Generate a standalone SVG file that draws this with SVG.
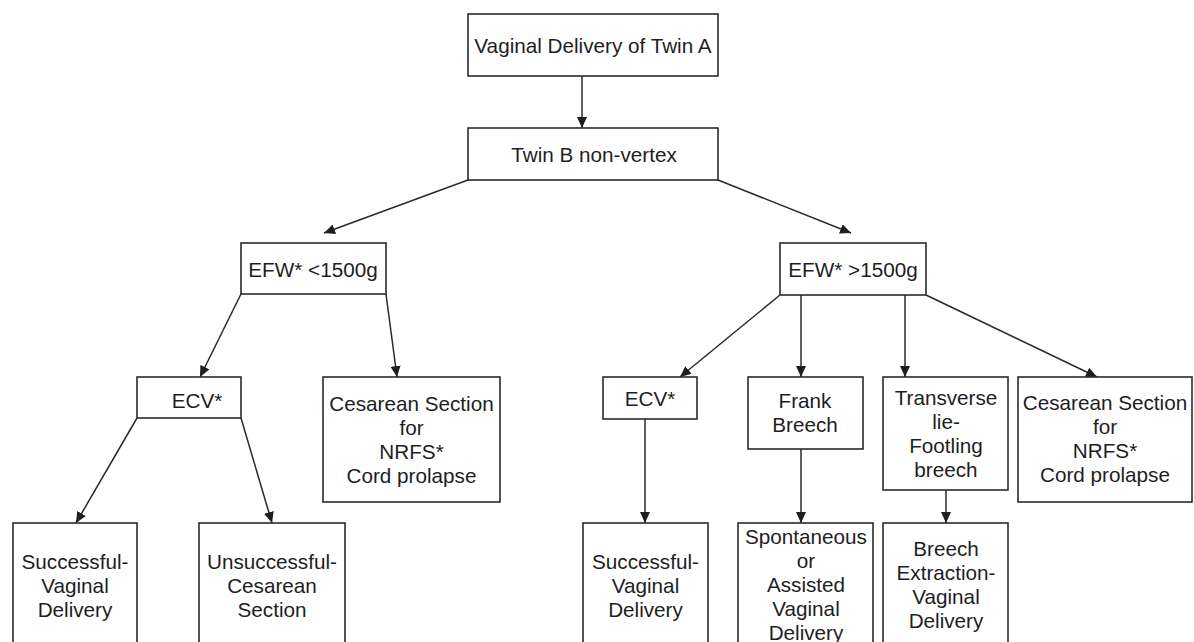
<svg xmlns="http://www.w3.org/2000/svg" width="1194" height="642" viewBox="0 0 1194 642">
<style>
.box{fill:#fff;stroke:#2a2a2a;stroke-width:1.6}
.t{font-family:"Liberation Sans",Arial,sans-serif;font-size:20.7px;fill:#1e1e1e;text-anchor:middle}
.c{stroke:#2a2a2a;stroke-width:1.5;fill:none;marker-end:url(#ah)}
</style>
<defs>
<marker id="ah" markerUnits="userSpaceOnUse" markerWidth="11" markerHeight="10" refX="11" refY="5" orient="auto">
<path d="M0,0 L11,5 L0,10 z" fill="#1e1e1e"/>
</marker>
</defs>
<rect width="1194" height="642" fill="#fff"/>
<g id="connectors">
<line class="c" x1="582" y1="76" x2="582" y2="128"/>
<line class="c" x1="468" y1="180" x2="324" y2="233"/>
<line class="c" x1="718" y1="180" x2="851" y2="233"/>
<line class="c" x1="241" y1="294" x2="200" y2="377"/>
<line class="c" x1="386" y1="294" x2="397" y2="377"/>
<line class="c" x1="137" y1="418" x2="76" y2="523"/>
<line class="c" x1="241" y1="418" x2="272" y2="523"/>
<line class="c" x1="780" y1="295" x2="680" y2="377"/>
<line class="c" x1="801" y1="295" x2="801" y2="377"/>
<line class="c" x1="905" y1="295" x2="905" y2="377"/>
<line class="c" x1="926" y1="295" x2="1097" y2="377"/>
<line class="c" x1="645" y1="419" x2="645" y2="523"/>
<line class="c" x1="801" y1="449" x2="801" y2="523"/>
<line class="c" x1="946" y1="490" x2="946" y2="523"/>
</g>
<g id="n_twinA">
<rect class="box" x="468" y="14" width="250" height="62"/>
<text class="t" x="593" y="53">Vaginal Delivery of Twin A</text>
</g>
<g id="n_twinB">
<rect class="box" x="468" y="128" width="250" height="52"/>
<text class="t" x="594" y="162">Twin B non-vertex</text>
</g>
<g id="n_efw_lt">
<rect class="box" x="241" y="243" width="145" height="51"/>
<text class="t" x="313" y="277">EFW* &lt;1500g</text>
</g>
<g id="n_efw_gt">
<rect class="box" x="780" y="243" width="146" height="52"/>
<text class="t" x="853" y="277">EFW* &gt;1500g</text>
</g>
<g id="n_ecv_l">
<rect class="box" x="137" y="377" width="104" height="41"/>
<text class="t" x="197" y="408">ECV*</text>
</g>
<g id="n_cs_l">
<rect class="box" x="323" y="377" width="177" height="125"/>
<text class="t" x="411.5" y="411">Cesarean Section</text>
<text class="t" x="411.5" y="435">for</text>
<text class="t" x="411.5" y="459">NRFS*</text>
<text class="t" x="411.5" y="483">Cord prolapse</text>
</g>
<g id="n_ecv_r">
<rect class="box" x="603" y="377" width="94" height="42"/>
<text class="t" x="650" y="406">ECV*</text>
</g>
<g id="n_frank">
<rect class="box" x="748" y="377" width="115" height="72"/>
<text class="t" x="805" y="408">Frank</text>
<text class="t" x="805" y="432">Breech</text>
</g>
<g id="n_trans">
<rect class="box" x="883" y="377" width="125" height="113"/>
<text class="t" x="946" y="405">Transverse</text>
<text class="t" x="946" y="429">lie-</text>
<text class="t" x="946" y="453">Footling</text>
<text class="t" x="946" y="477">breech</text>
</g>
<g id="n_cs_r">
<rect class="box" x="1018" y="377" width="174" height="125"/>
<text class="t" x="1105" y="410">Cesarean Section</text>
<text class="t" x="1105" y="434">for</text>
<text class="t" x="1105" y="458">NRFS*</text>
<text class="t" x="1105" y="482">Cord prolapse</text>
</g>
<g id="n_succ_l">
<rect class="box" x="13" y="523" width="124" height="140"/>
<text class="t" x="75" y="569">Successful-</text>
<text class="t" x="75" y="593">Vaginal</text>
<text class="t" x="75" y="617">Delivery</text>
</g>
<g id="n_unsucc">
<rect class="box" x="199" y="523" width="146" height="140"/>
<text class="t" x="272" y="569">Unsuccessful-</text>
<text class="t" x="272" y="593">Cesarean</text>
<text class="t" x="272" y="617">Section</text>
</g>
<g id="n_succ_r">
<rect class="box" x="583" y="523" width="125" height="140"/>
<text class="t" x="645.5" y="569">Successful-</text>
<text class="t" x="645.5" y="593">Vaginal</text>
<text class="t" x="645.5" y="617">Delivery</text>
</g>
<g id="n_spont">
<rect class="box" x="738" y="523" width="135" height="140"/>
<text class="t" x="806" y="544">Spontaneous</text>
<text class="t" x="806" y="568">or</text>
<text class="t" x="806" y="592">Assisted</text>
<text class="t" x="806" y="616">Vaginal</text>
<text class="t" x="806" y="640">Delivery</text>
</g>
<g id="n_breech">
<rect class="box" x="883" y="523" width="125" height="140"/>
<text class="t" x="946" y="556">Breech</text>
<text class="t" x="946" y="580">Extraction-</text>
<text class="t" x="946" y="604">Vaginal</text>
<text class="t" x="946" y="628">Delivery</text>
</g>
</svg>
